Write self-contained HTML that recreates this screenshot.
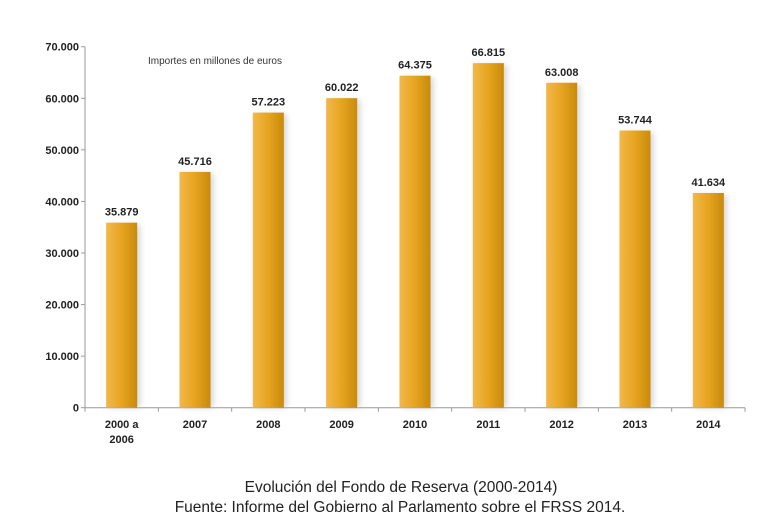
<!DOCTYPE html>
<html><head><meta charset="utf-8"><style>
body{margin:0;background:#fff;width:768px;height:521px;overflow:hidden}
svg text{font-family:"Liberation Sans",sans-serif}
</style></head><body>
<svg width="768" height="521">
<defs>
<linearGradient id="g" x1="0" x2="1"><stop offset="0" stop-color="#f2b84a"/><stop offset="0.5" stop-color="#e6a41f"/><stop offset="1" stop-color="#c98a0c"/></linearGradient>
<filter id="sh" x="-30%" y="-5%" width="160%" height="115%"><feGaussianBlur stdDeviation="3"/></filter>
</defs>
<text x="148" y="64" font-size="10" fill="#333">Importes en millones de euros</text>
<text x="401" y="492" font-size="15.5" fill="#222" text-anchor="middle">Evolución del Fondo de Reserva (2000-2014)</text>
<text x="400" y="512" font-size="15.5" fill="#222" text-anchor="middle">Fuente: Informe del Gobierno al Parlamento sobre el FRSS 2014.</text>
</svg>
<script>
const categories=[["2000 a","2006"],["2007"],["2008"],["2009"],["2010"],["2011"],["2012"],["2013"],["2014"]];
const values=[35879,45716,57223,60022,64375,66815,63008,53744,41634];
const valueLabels=["35.879","45.716","57.223","60.022","64.375","66.815","63.008","53.744","41.634"];
const ticks=[0,10000,20000,30000,40000,50000,60000,70000];
const tickLabels=["0","10.000","20.000","30.000","40.000","50.000","60.000","70.000"];
const svg=document.querySelector('svg'),NS='http://www.w3.org/2000/svg';
const x0=85,x1=745,y0=407.7,yTop=46.7,max=70000;
const bw=(x1-x0)/categories.length;
const y=v=>y0-(v/max)*(y0-yTop);
const xc=i=>x0+bw*(i+0.5);
function mk(t,a,txt){const e=document.createElementNS(NS,t);for(const k in a)e.setAttribute(k,a[k]);if(txt!=null)e.textContent=txt;svg.appendChild(e);return e;}
let e=mk('line',{x1:x0,y1:yTop,x2:x0,y2:y0,stroke:'#999'});


e=mk('line',{x1:x0,y1:y0,x2:x1,y2:y0,stroke:'#999'});


ticks.forEach((t,i)=>{
 mk('line',{x1:x0-4,y1:y(t),x2:x0,y2:y(t),stroke:'#999'});
 const l=mk('text',{x:x0-6,y:y(t)+4,'font-size':11,'font-weight':'bold','text-anchor':'end',fill:'#222'},tickLabels[i]);
 
 
});
for(let i=0;i<=categories.length;i++)mk('line',{x1:x0+bw*i,y1:y0,x2:x0+bw*i,y2:y0+4,stroke:'#999'});
values.forEach((v,i)=>{
 const w=31,cx=xc(i);
 mk('rect',{x:cx-w/2+3,y:y(v)+2,width:w,height:y0-y(v)-2,fill:'#bbb',opacity:0.6,filter:'url(#sh)'});
 const r=mk('rect',{x:cx-w/2,y:y(v),width:w,height:y0-y(v),fill:'url(#g)'});
 
 
 const t=mk('text',{x:cx,y:y(v)-7,'font-size':11,'font-weight':'bold','text-anchor':'middle',fill:'#222'},valueLabels[i]);
 
 
 categories[i].forEach((s,j)=>{
  const c=mk('text',{x:cx,y:428+j*15,'font-size':11,'font-weight':'bold','text-anchor':'middle',fill:'#222'},s);
  
  
 });
});
</script>
</body></html>
